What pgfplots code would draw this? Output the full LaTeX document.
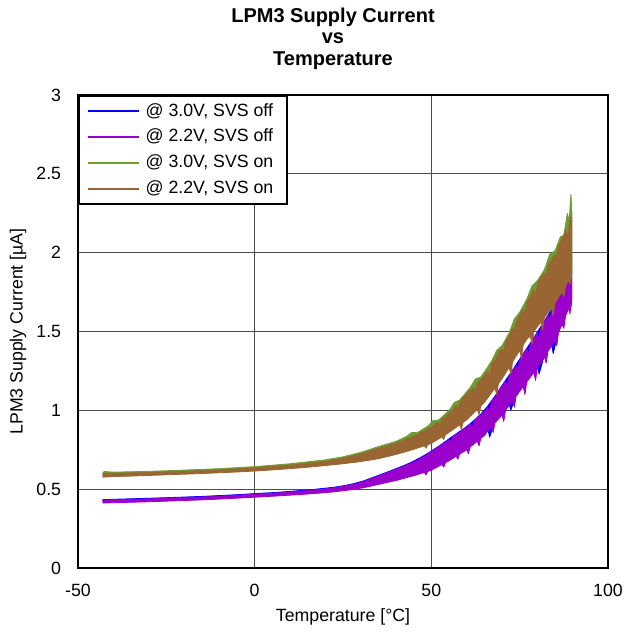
\documentclass[border=0pt]{standalone}
\usepackage{fontspec}
\setmainfont{Liberation Sans}
\usepackage{pgfplots}
\pgfplotsset{compat=1.18}
\definecolor{cblue}{RGB}{0,0,255}
\definecolor{cpurple}{RGB}{153,0,204}
\definecolor{cgreen}{RGB}{110,155,50}
\definecolor{cbrown}{RGB}{153,102,51}
\begin{document}
\begin{tikzpicture}
\path[use as bounding box] (-58.5pt,-48.75pt) rectangle (409.5pt,426pt);
\begin{axis}[
  at={(0,0)}, anchor=south west,
  width=397.5pt, height=354.75pt, scale only axis,
  xmin=-50, xmax=100, ymin=0, ymax=3,
  xtick={-50,0,50,100}, xticklabels={-50,0,50,100},
  ytick={0,0.5,1,1.5,2,2.5,3}, yticklabels={0,0.5,1,1.5,2,2.5,3},
  font=\fontsize{13.3}{16}\selectfont,
  grid=major, major grid style={black!70, line width=0.75pt},
  axis line style={black, line width=1.5pt},
  tick style={draw=none},
  xticklabel style={anchor=center, yshift=-16.5pt},
  yticklabel style={anchor=east, inner sep=0pt, xshift=-12.5pt},
  xlabel={Temperature [°C]},
  xlabel style={at={([yshift=-36.75pt]axis description cs:0.5,0)}, anchor=center},
  ylabel={LPM3 Supply Current [µA]},
  ylabel style={at={([xshift=-45pt]axis description cs:0,0.5)}, anchor=center},
  title={LPM3 Supply Current\\vs\\Temperature},
  title style={at={([xshift=-7.5pt,yshift=36.4pt]axis description cs:0.5,1)}, anchor=center, align=center, font=\bfseries\fontsize{15}{16.1}\selectfont},
  legend cell align=left,
  legend image code/.code={\path (-4.5pt,0pt) (43pt,0pt); \draw[#1,line width=1.5pt] (0pt,0pt) -- (38pt,0pt);},
  legend style={at={(axis description cs:0,1)}, anchor=north west, draw=black, line width=1.2pt, fill=white,
    inner xsep=2pt, inner ysep=2pt, row sep=0pt, font=\fontsize{13.3}{16}\selectfont,
    nodes={inner sep=0pt, text height=10pt, text depth=3pt, minimum height=19.3pt}},
  every axis plot/.append style={line width=0.6pt, line join=round},
]
% 3.0V, SVS off: upper edge, then lower edge back
\addplot[cblue, fill=cblue] table {
-43 0.434
-35 0.439
-25 0.446
-15 0.454
-5 0.465
0 0.472
5 0.478
10 0.486
16 0.497
22 0.511
25 0.521
28 0.535
31 0.554
34 0.579
37 0.604
40 0.630
42 0.648
44 0.667
46 0.690
48 0.714
50 0.742
52 0.771
54 0.803
56 0.835
58 0.866
60 0.897
62 0.934
64 0.976
66 1.028
68 1.090
70 1.158
72 1.222
74 1.290
76 1.360
78 1.426
80 1.497
82 1.568
84 1.640
86 1.727
88 1.836
89 1.880
89.7 1.880
89.7 1.700
88 1.610
86 1.505
84.5 1.360
84 1.420
82 1.350
80.5 1.230
80 1.280
78 1.220
76 1.160
74 1.100
72.5 1.000
72 1.040
70 0.980
68 0.930
66.5 0.830
66 0.880
64 0.832
62 0.796
60 0.760
58 0.732
56 0.704
54 0.678
52 0.654
50 0.630
48 0.616
46 0.602
44 0.589
42 0.577
40 0.565
34 0.535
28 0.508
22 0.492
16 0.481
10 0.472
0 0.459
-10 0.447
-20 0.438
-30 0.430
-43 0.422
};
\addlegendentry{@ 3.0V, SVS off\rule{8pt}{0pt}}
% 2.2V, SVS off
\addplot[cpurple, fill=cpurple] table {
-43 0.430
-40 0.432
-35 0.435
-30 0.438
-25 0.442
-20 0.446
-15 0.450
-10 0.455
-5 0.461
0 0.468
5 0.474
10 0.482
13 0.487
16 0.493
19 0.499
22 0.507
25 0.517
28 0.531
31 0.550
34 0.575
37 0.600
40 0.625
41 0.636
42 0.641
43 0.655
44 0.659
45 0.672
46 0.681
47 0.698
48 0.706
49 0.725
50 0.735
51 0.752
52 0.764
53 0.785
54 0.796
55 0.815
55.5 0.795
56 0.828
57 0.848
58 0.858
59 0.880
60 0.890
61 0.912
61.5 0.880
62 0.926
63 0.953
64 0.968
65 0.990
66 1.018
66.5 0.990
67 1.055
68 1.080
69 1.122
70 1.150
71 1.186
71.5 1.150
72 1.214
73 1.256
74 1.282
74.5 1.250
75 1.320
76 1.352
77 1.392
77.5 1.350
78 1.418
79 1.460
80 1.490
80.5 1.450
81 1.528
82 1.560
83 1.602
83.5 1.560
84 1.632
85 1.670
86 1.720
86.5 1.700
87 1.780
88 1.830
88.5 1.780
89 1.900
89.7 1.960
89.7 1.680
89.2 1.610
89 1.650
88 1.600
87.5 1.520
87 1.545
86 1.495
85.5 1.410
85 1.445
84 1.405
83 1.375
82.5 1.300
82 1.340
81 1.305
80 1.270
79.5 1.190
79 1.240
78 1.210
77 1.180
76.5 1.100
76 1.150
75 1.120
74 1.090
73.5 1.020
73 1.060
72 1.030
71 1.000
70.5 0.930
70 0.970
69 0.945
68 0.920
67.5 0.860
67 0.895
66 0.870
65 0.840
64 0.822
63.5 0.775
63 0.804
62 0.786
61 0.768
60.5 0.725
60 0.750
59 0.736
58 0.722
57.5 0.690
57 0.708
56 0.694
55 0.680
54 0.668
53.5 0.640
53 0.656
52 0.644
51 0.632
50 0.620
49 0.613
48.5 0.590
48 0.606
47 0.599
46 0.592
45 0.585
44 0.579
43 0.573
42 0.567
41 0.561
40 0.555
37 0.540
34 0.525
31 0.510
28 0.498
25 0.490
22 0.482
19 0.476
16 0.471
13 0.466
10 0.462
5 0.455
0 0.449
-5 0.443
-10 0.437
-15 0.432
-20 0.428
-25 0.424
-30 0.420
-35 0.417
-40 0.414
-43 0.412
};
\addlegendentry{@ 2.2V, SVS off\rule{8pt}{0pt}}
% 3.0V, SVS on
\addplot[cgreen, fill=cgreen] table {
-43 0.606
-42.5 0.612
-40 0.608
-30 0.613
-20 0.621
-10 0.630
0 0.643
10 0.661
20 0.686
25 0.705
30 0.733
35 0.770
40 0.803
43 0.835
44.5 0.860
46 0.858
49 0.900
50.5 0.935
52 0.938
55 0.998
56.5 1.050
58 1.065
61 1.145
62.5 1.200
64 1.210
67 1.310
68.5 1.380
70 1.410
72 1.490
73.5 1.580
75 1.622
77 1.705
78.5 1.790
80 1.822
82 1.892
83.5 1.990
85 2.012
86.5 2.100
87.5 2.110
88.5 2.250
89 2.200
89.5 2.370
89.8 2.250
89.8 1.870
85 1.690
80 1.540
75 1.390
70 1.210
65 1.060
60 0.950
55 0.870
50 0.800
45 0.762
40 0.730
30 0.685
20 0.660
10 0.640
0 0.625
-10 0.614
-20 0.605
-30 0.597
-43 0.586
};
\addlegendentry{@ 3.0V, SVS on\rule{8pt}{0pt}}
% 2.2V, SVS on
\addplot[cbrown, fill=cbrown] table {
-43 0.598
-40 0.600
-35 0.603
-30 0.605
-25 0.609
-20 0.613
-15 0.617
-10 0.622
-5 0.628
0 0.635
5 0.643
10 0.652
15 0.663
20 0.676
25 0.695
30 0.722
35 0.758
40 0.790
41 0.802
42 0.805
43 0.820
44 0.823
45 0.838
46 0.843
47 0.862
48 0.866
49 0.885
50 0.890
51 0.912
52 0.922
52.5 0.900
53 0.948
54 0.958
55 0.982
56 1.000
57 1.030
57.5 1.000
58 1.046
59 1.080
60 1.100
61 1.128
62 1.142
62.5 1.110
63 1.175
64 1.192
65 1.222
66 1.250
66.5 1.210
67 1.290
68 1.318
69 1.362
70 1.390
70.5 1.370
71 1.436
72 1.470
73 1.520
73.5 1.500
74 1.556
75 1.600
76 1.642
76.5 1.620
77 1.685
78 1.718
79 1.765
79.5 1.730
80 1.800
81 1.842
82 1.870
82.5 1.840
83 1.920
84 1.950
85 1.990
85.5 1.970
86 2.045
87 2.085
88 2.140
88.5 2.100
89 2.170
89.4 2.230
89.7 2.210
89.7 1.850
89.3 1.800
89 1.825
88 1.790
87.5 1.720
87 1.752
86 1.716
85 1.680
84.5 1.600
84 1.650
83 1.620
82 1.590
81.5 1.510
81 1.560
80 1.530
79 1.500
78.5 1.420
78 1.470
77 1.452
76 1.416
75.5 1.330
75 1.380
74 1.344
73 1.308
72.5 1.230
72 1.272
71 1.236
70 1.200
69 1.170
68.5 1.100
68 1.140
67 1.110
66 1.080
65 1.050
64 1.028
63.5 0.970
63 1.006
62 0.984
61 0.962
60 0.940
59 0.924
58.5 0.880
58 0.908
57 0.892
56 0.876
55 0.860
54 0.846
53.5 0.815
53 0.832
52 0.818
51 0.804
50 0.790
49 0.782
48.5 0.760
48 0.775
47 0.767
46 0.760
45 0.752
44 0.746
43 0.739
42 0.733
41 0.726
40 0.720
35 0.693
30 0.675
25 0.661
20 0.650
15 0.639
10 0.630
5 0.622
0 0.615
-5 0.609
-10 0.604
-15 0.599
-20 0.595
-25 0.591
-30 0.587
-35 0.583
-40 0.580
-43 0.576
};
\addlegendentry{@ 2.2V, SVS on\rule{8pt}{0pt}}
\end{axis}
\end{tikzpicture}
\end{document}
